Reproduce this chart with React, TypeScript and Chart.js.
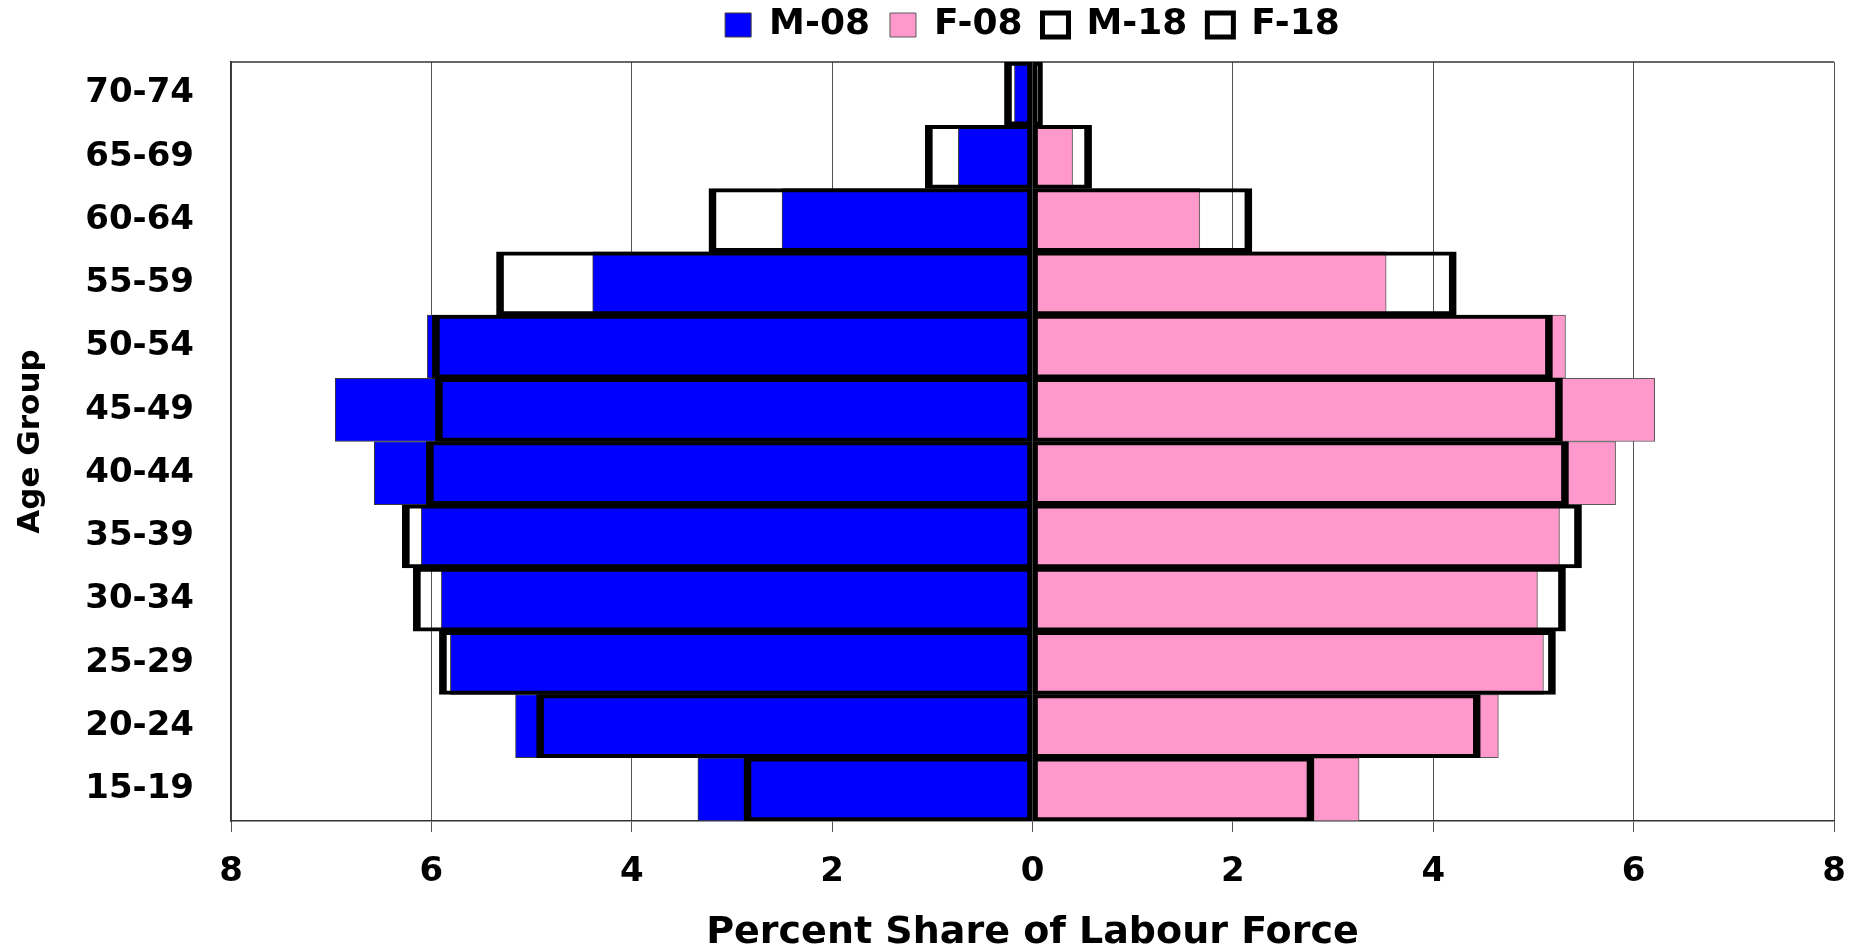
import React, { useEffect, useRef } from 'react';
import { Chart, registerables } from 'chart.js';

Chart.register(...registerables);

// Age groups, listed from top row to bottom row
const ageGroups = ['70-74', '65-69', '60-64', '55-59', '50-54', '45-49', '40-44', '35-39', '30-34', '25-29', '20-24', '15-19'];

// Percent share of labour force (males plotted to the left)
const male2008 = [0.18, 0.74, 2.50, 4.39, 6.04, 6.96, 6.57, 6.10, 5.90, 5.81, 5.16, 3.34];
const female2008 = [0.04, 0.40, 1.67, 3.53, 5.32, 6.21, 5.82, 5.26, 5.04, 5.10, 4.65, 3.26];
const male2018 = [0.28, 1.07, 3.23, 5.35, 5.99, 5.96, 6.05, 6.29, 6.18, 5.92, 4.95, 2.88];
const female2018 = [0.1, 0.59, 2.19, 4.23, 5.19, 5.29, 5.35, 5.48, 5.32, 5.22, 4.47, 2.81];

const seriesLabels = ['M-08', 'F-08', 'M-18', 'F-18'];
const xMin = -8;
const xMax = 8;
const xStep = 2;

const FONT = "'DejaVu Sans', 'Liberation Sans', sans-serif";

const framePlugin = {
  id: 'frameTop',
  beforeDatasetsDraw(chart: any) {
    const { ctx, chartArea } = chart;
    ctx.save();
    ctx.strokeStyle = '#333';
    ctx.lineWidth = 1.5;
    ctx.beginPath();
    ctx.moveTo(chartArea.left, chartArea.top);
    ctx.lineTo(chartArea.right, chartArea.top);
    ctx.stroke();
    ctx.restore();
  },
};

const legendSpacer = {
  id: 'legendSpacer',
  beforeLayout(chart: any) {
    const l = chart.legend;
    if (l && !l._patched) {
      const orig = l.fit;
      l.fit = function () {
        orig.call(this);
        this.height = 75;
      };
      l._patched = true;
    }
  },
};

export default function App() {
  const ref = useRef<HTMLCanvasElement | null>(null);

  useEffect(() => {
    if (!ref.current) return;
    const chart = new Chart(ref.current, {
      type: 'bar',
      data: {
        labels: ageGroups,
        datasets: [
          {
            label: seriesLabels[0],
            data: male2008.map((v) => -v),
            backgroundColor: '#0000FF',
            borderColor: '#3a3a3a',
            borderWidth: 1,
            order: 2,
          },
          {
            label: seriesLabels[1],
            data: female2008,
            backgroundColor: '#FF99CC',
            borderColor: '#5a5a5a',
            borderWidth: 1,
            order: 2,
          },
          {
            label: seriesLabels[2],
            data: male2018.map((v) => -v),
            backgroundColor: 'rgba(255,255,255,0)',
            borderColor: '#000',
            borderWidth: { top: 3.5, bottom: 3.5, left: 7, right: 4.5 },
            borderSkipped: false,
            order: 1,
          },
          {
            label: seriesLabels[3],
            data: female2018,
            backgroundColor: 'rgba(255,255,255,0)',
            borderColor: '#000',
            borderWidth: { top: 3.5, bottom: 3.5, left: 4.5, right: 7 },
            borderSkipped: false,
            order: 1,
          },
        ] as any,
      },
      options: {
        indexAxis: 'y',
        animation: false,
        responsive: true,
        maintainAspectRatio: false,
        layout: { padding: { top: -13, right: 28, left: 0, bottom: 0 } },
        datasets: {
          bar: { grouped: false, barPercentage: 1, categoryPercentage: 1 },
        } as any,
        plugins: {
          tooltip: { enabled: false },
          legend: {
            position: 'top',
            fullSize: false,
            labels: {
              color: '#000',
              font: { family: FONT, size: 36, weight: 'bold' },
              boxWidth: 26,
              boxHeight: 24,
              padding: 20,
              sort: (a: any, b: any) => a.datasetIndex - b.datasetIndex,
              generateLabels: (chart: any) => {
                const items = (Chart as any).defaults.plugins.legend.labels.generateLabels(chart);
                items.forEach((it: any) => {
                  if (it.datasetIndex >= 2) {
                    it.lineWidth = 5;
                    it.fillStyle = '#fff';
                  } else {
                    it.lineWidth = 1;
                  }
                });
                return items;
              },
            },
          },
        },
        scales: {
          x: {
            min: xMin,
            max: xMax,
            ticks: {
              stepSize: xStep,
              color: '#000',
              padding: 20,
              font: { family: FONT, size: 34, weight: 'bold' },
              callback: (v: any) => String(Math.abs(Number(v))),
            },
            grid: { color: '#555', lineWidth: 1, drawTicks: true, tickLength: 11 },
            border: { display: true, color: '#333', width: 1.5 },
            title: {
              display: true,
              text: 'Percent Share of Labour Force',
              color: '#000',
              font: { family: FONT, size: 38, weight: 'bold', lineHeight: 0.75 },
              padding: { top: 0, bottom: 0 },
            },
            afterFit: (scale: any) => {
              scale.height = 126;
              scale.paddingLeft = 0;
              scale.paddingRight = 0;
            },
          },
          y: {
            ticks: {
              color: '#000',
              padding: 37,
              font: { family: FONT, size: 34, weight: 'bold' },
            },
            grid: { display: false, drawTicks: false, tickLength: 0 },
            border: { display: true, color: '#333', width: 1.5 },
            title: {
              display: true,
              text: 'Age Group',
              color: '#000',
              font: { family: FONT, size: 31, weight: 'bold', lineHeight: 1.2 },
              padding: { top: 12, bottom: 0 },
            },
            afterFit: (scale: any) => {
              scale.width = 231;
            },
          },
        },
      } as any,
      plugins: [framePlugin, legendSpacer],
    });
    return () => chart.destroy();
  }, []);

  return (
    <div style={{ position: 'fixed', left: 0, top: 0, width: '1862px', height: '947px', background: '#fff' }}>
      <canvas ref={ref} />
    </div>
  );
}
